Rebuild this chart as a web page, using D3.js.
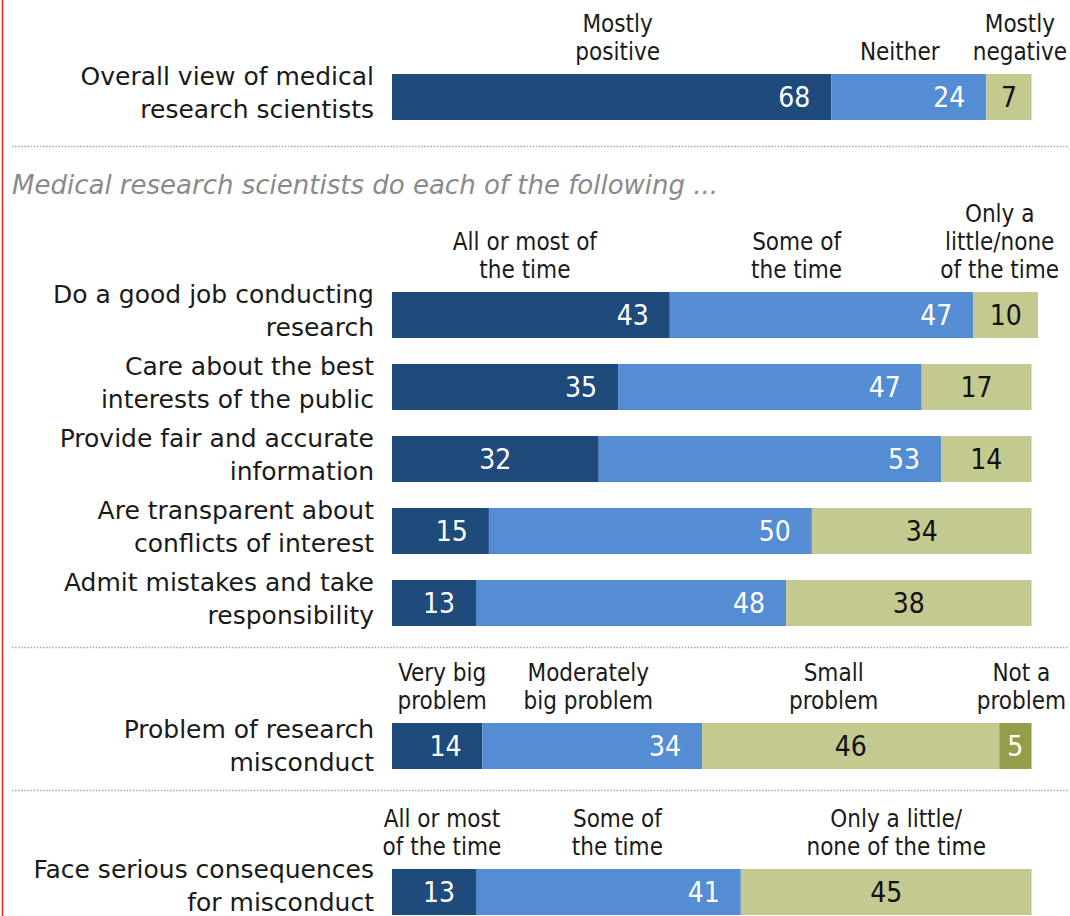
<!DOCTYPE html>
<html>
<head>
<meta charset="utf-8">
<script src="https://cdn.jsdelivr.net/npm/d3@7"></script>
<style>
  html, body { margin: 0; padding: 0; background: #fff; }
  svg { display: block; }
</style>
</head>
<body>
<svg id="chart" width="1070" height="916"></svg>
<script>
// ---- Data ----------------------------------------------------------------
const overallCategories = ["Overall view of medical\nresearch scientists"];
const overallSeries = ["Mostly\npositive", "Neither", "Mostly\nnegative"];
const overallValues = [[68, 24, 7]];

const behaviorCategories = [
  "Do a good job conducting\nresearch",
  "Care about the best\ninterests of the public",
  "Provide fair and accurate\ninformation",
  "Are transparent about\nconflicts of interest",
  "Admit mistakes and take\nresponsibility"
];
const behaviorSeries = ["All or most of\nthe time", "Some of\nthe time", "Only a\nlittle/none\nof the time"];
const behaviorValues = [
  [43, 47, 10],
  [35, 47, 17],
  [32, 53, 14],
  [15, 50, 34],
  [13, 48, 38]
];

const problemCategories = ["Problem of research\nmisconduct"];
const problemSeries = ["Very big\nproblem", "Moderately\nbig problem", "Small\nproblem", "Not a\nproblem"];
const problemValues = [[14, 34, 46, 5]];

const consequenceCategories = ["Face serious consequences\nfor misconduct"];
const consequenceSeries = ["All or most\nof the time", "Some of\nthe time", "Only a little/\nnone of the time"];
const consequenceValues = [[13, 41, 45]];

const subtitleText = "Medical research scientists do each of the following ...";

// ---- Layout & style --------------------------------------------------------
const W = 1070, H = 916;
const colors = ["#1f4a7c", "#558dd5", "#c4c98f", "#949d4a"];
const valueTextColors = ["#ffffff", "#ffffff", "#111111", "#ffffff"];
const barH = 46;
const rowStep = 72;

const sections = [
  { cats: overallCategories, series: overallSeries, values: overallValues, top: 74, labelShift: 0, headerNudge: [6, -9, 11] },
  { cats: behaviorCategories, series: behaviorSeries, values: behaviorValues, top: 292, labelShift: 0, headerNudge: [-6, -25, -6] },
  { cats: problemCategories, series: problemSeries, values: problemValues, top: 723, labelShift: 4, headerNudge: [5, -4, -17, 6] },
  { cats: consequenceCategories, series: consequenceSeries, values: consequenceValues, top: 869, labelShift: -2, headerNudge: [8, 9, 10] }
];
const separatorsY = [146.5, 647.5, 790.5];
// Dark-segment value labels that sit centred in their segment
const centeredDarkRows = new Set(["Provide fair and accurate\ninformation"]);

const svg = d3.select("#chart");
svg.append("rect").attr("width", W).attr("height", H).attr("fill", "#fff");

const x = d3.scaleLinear().domain([0, 100]).range([392, 1038]);

const labelFont = "'DejaVu Sans', Verdana, sans-serif";
const condFont = "'DejaVu Sans Condensed', 'DejaVu Sans', sans-serif";

// Frame rule on the left edge
svg.append("line")
  .attr("x1", 2.5).attr("x2", 2.5).attr("y1", 0).attr("y2", H)
  .attr("stroke", "#e8211d").attr("stroke-width", 1.5);

// Dotted section separators
svg.selectAll("line.sep").data(separatorsY).join("line")
  .attr("class", "sep")
  .attr("x1", 12).attr("x2", 1068)
  .attr("y1", d => d).attr("y2", d => d)
  .attr("stroke", "#a6a6a6").attr("stroke-width", 1.5)
  .attr("stroke-dasharray", "1.5,1.6");

// Italic subtitle for the middle block
svg.append("text")
  .attr("x", 12).attr("y", 194)
  .attr("font-family", "'DejaVu Sans', sans-serif")
  .attr("font-style", "italic")
  .attr("font-size", 26)
  .attr("fill", "#8a8a8a")
  .text(subtitleText);

function multiline(sel, str, lineH) {
  const lines = str.split("\n");
  lines.forEach((ln, i) => {
    sel.append("tspan").attr("x", sel.attr("x")).attr("dy", i === 0 ? 0 : lineH).text(ln);
  });
}

sections.forEach(sec => {
  const n = sec.cats.length;
  const gap = rowStep - barH;
  const pad = gap / rowStep;
  const y = d3.scaleBand()
    .domain(sec.cats)
    .range([sec.top - gap / 2, sec.top - gap / 2 + rowStep * n])
    .paddingInner(pad)
    .paddingOuter(pad / 2);

  const g = svg.append("g");

  sec.cats.forEach((cat, ri) => {
    const vals = sec.values[ri];
    const stack = [];
    let acc = 0;
    vals.forEach((v, si) => { stack.push({ v, si, x0: acc, x1: acc + v }); acc += v; });

    const by = y(cat);
    const cy = by + y.bandwidth() / 2;

    // Segments
    g.selectAll(null).data(stack).join("rect")
      .attr("x", d => x(d.x0))
      .attr("y", by)
      .attr("width", d => x(d.x1) - x(d.x0))
      .attr("height", y.bandwidth())
      .attr("fill", d => colors[d.si]);

    // Value labels
    const centred = d => d.si >= 2 || (d.si === 0 && centeredDarkRows.has(cat));
    g.selectAll(null).data(stack).join("text")
      .attr("x", d => centred(d) ? (x(d.x0) + x(d.x1)) / 2 : x(d.x1) - 21)
      .attr("text-anchor", d => centred(d) ? "middle" : "end")
      .attr("y", cy)
      .attr("dy", "0.36em")
      .attr("font-family", condFont)
      .attr("font-size", 28)
      .attr("fill", d => valueTextColors[d.si])
      .text(d => d.v);

    // Row label (two lines, right-aligned)
    const lbl = g.append("text")
      .attr("x", 374)
      .attr("y", cy - 12 + sec.labelShift)
      .attr("text-anchor", "end")
      .attr("font-family", labelFont)
      .attr("font-size", 25)
      .attr("fill", "#1a1a1a");
    multiline(lbl, cat, 33);

    // Column headers above the first bar in the section
    if (ri === 0) {
      stack.forEach(d => {
        const lines = sec.series[d.si].split("\n");
        const cx = (x(d.x0) + x(d.x1)) / 2 + sec.headerNudge[d.si];
        const lastBase = by - 14;
        const t = g.append("text")
          .attr("x", cx)
          .attr("y", lastBase - (lines.length - 1) * 28)
          .attr("text-anchor", "middle")
          .attr("font-family", condFont)
          .attr("font-size", 24)
          .attr("fill", "#1a1a1a");
        multiline(t, sec.series[d.si], 28);
      });
    }
  });
});
</script>
</body>
</html>
